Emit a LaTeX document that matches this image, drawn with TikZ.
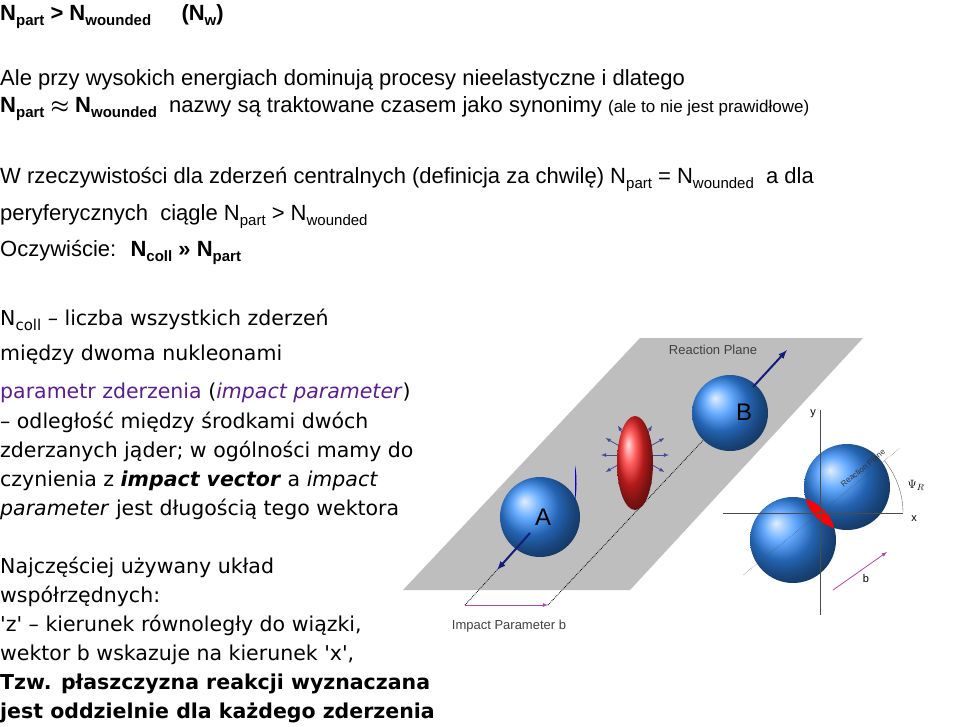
\documentclass[tikz,border=0pt]{standalone}
\usepackage{amsmath,amssymb}
\usepackage{fontspec}
\setmainfont{Liberation Sans}
\newfontfamily\dv{DejaVu Sans}
\usetikzlibrary{positioning}
\newcommand{\lo}[1]{\raisebox{-0.5ex}{\fontsize{15}{15}\selectfont #1}}
\definecolor{plum}{RGB}{90,30,140}
\definecolor{navy}{RGB}{20,30,120}
\definecolor{plane}{RGB}{190,190,190}
\begin{document}
\begin{tikzpicture}[x=1pt,y=-1pt, every node/.style={inner sep=0pt},
  txt/.style={anchor=base west, font=\fontsize{22}{26}\selectfont},
  dtx/.style={anchor=base west, font=\dv\fontsize{20.5}{24}\selectfont},
  ball/.style={ball color=blue!55!cyan!80!white, draw=none},
  arr/.style={-latex, line width=2pt, navy},
  ray/.style={-latex, navy!80, line width=0.8pt}]
\useasboundingbox (0,0) rectangle (960,726);
% Text of the slide
\node[txt, font=\bfseries\fontsize{22}{26}\selectfont] (t1) at (0,20) {N\lo{part} > N\lo{wounded} \hspace{1.1em}(N\lo{w})};
\node[txt] (t2) at (0,85) {Ale przy wysokich energiach dominują procesy nieelastyczne i dlatego};
\node[txt] (t3) at (0,112) {\textbf{N\lo{part} $\boldsymbol{\approx}$ N\lo{wounded}} \ nazwy są traktowane czasem jako synonimy {\fontsize{17}{20}\selectfont(ale to nie jest prawidłowe)}};
\node[txt] (t4) at (0,183) {W rzeczywistości dla zderzeń centralnych (definicja za chwilę) N\lo{part} = N\lo{wounded} \ a dla};
\node[txt] (t5) at (0,220) {peryferycznych \ ciągle N\lo{part} > N\lo{wounded}};
\node[txt] (t6) at (0,256) {Oczywiście: \ \textbf{N\lo{coll} >> N\lo{part}}};
\node[dtx] (t7) at (0,325) {N\lo{coll} – liczba wszystkich zderzeń};
\node[dtx] (t8) at (0,360) {między dwoma nukleonami};
\node[dtx, plum] (t9) at (0,398) {parametr zderzenia \textcolor{black}{(}\textit{impact parameter}\textcolor{black}{)}};
\node[dtx] (t10) at (0,428) {– odległość między środkami dwóch};
\node[dtx] (t11) at (0,457) {zderzanych jąder; w ogólności mamy do};
\node[dtx] (t12) at (0,486) {czynienia z \textbf{\textit{impact vector}} a \textit{impact}};
\node[dtx] (t13) at (0,515) {\textit{parameter} jest długością tego wektora};
\node[dtx] (t14) at (0,573) {Najczęściej używany układ};
\node[dtx] (t15) at (0,602) {współrzędnych:};
\node[dtx] (t16) at (0,631) {'z' – kierunek równoległy do wiązki,};
\node[dtx] (t17) at (0,660) {wektor b wskazuje na kierunek 'x',};
\node[dtx, font=\dv\bfseries\fontsize{20.5}{24}\selectfont] (t18) at (0,689) {Tzw. płaszczyzna reakcji wyznaczana};
\node[dtx, font=\dv\bfseries\fontsize{20.5}{24}\selectfont] (t19) at (0,718) {jest oddzielnie dla każdego zderzenia};
% Reaction plane
\fill[plane] (403,590) -- (630,590) -- (863,338) -- (640,338) -- cycle;
\node[font=\fontsize{13}{15}\selectfont, black!75] (rp) at (713,350) {Reaction Plane};
\coordinate (la) at (465,605);
\coordinate (ra) at (548,605);
\draw[densely dotted, thick] (la) -- (497,570);
\draw[densely dotted, thick] (ra) -- (710,433);
\draw[-latex, thick, violet!70] (la) -- (ra);
\node[font=\fontsize{13}{15}\selectfont, black!75] (ip) at (509,626) {Impact Parameter b};
% Nuclei
\shade[ball] (540,517) circle (40);
\fill[blue!80!black] (575,500) arc (60:-60:3 and 20) -- cycle;
\node[font=\fontsize{24}{26}\selectfont] (A) at (543,517) {A};
\shade[ball] (730,413) circle (38);
\node[font=\fontsize{24}{26}\selectfont] (B) at (744,412) {B};
\draw[arr] (530,533) -- (497,570);
\draw[arr] (753,387) -- (787,350);
% Fireball
\foreach \a in {0,30,...,330}
  \draw[ray] (635,455) -- ++(\a:34);
\shade[ball color=red!85, draw=none] (635,463) ellipse (18 and 47);
% Transverse plane
\coordinate (xl) at (723,513); \coordinate (xr) at (903,513);
\coordinate (yt) at (820,410); \coordinate (yb) at (820,615);
\shade[ball] (793,540) circle (43);
\shade[ball] (847,487) circle (43);
\begin{scope}
\clip (793,540) circle (43);
\fill[red] (847,487) circle (43);
\end{scope}
\draw[black!70] (xl) -- (xr);
\draw[black!70] (yt) -- (yb);
\draw[densely dotted, black!70] (743,575) -- (900,448);
\draw[black!60] (903,513) arc (0:-39:83);
\draw[-latex, thick, violet!70] (833,590) -- (887,552);
\node[font=\fontsize{11}{12}\selectfont] (xlab) at (914,519) {x};
\node[font=\fontsize{11}{12}\selectfont] (ylab) at (813,414) {y};
\node[font=\fontsize{13}{14}\selectfont] (psi) at (916,485) {$\Psi_R$};
\node[font=\fontsize{11}{12}\selectfont] (blab) at (866,579) {b};
\node[font=\fontsize{8}{9}\selectfont, rotate=39, black!80] (rp2) at (863,468) {Reaction Plane};
\end{tikzpicture}
\end{document}
